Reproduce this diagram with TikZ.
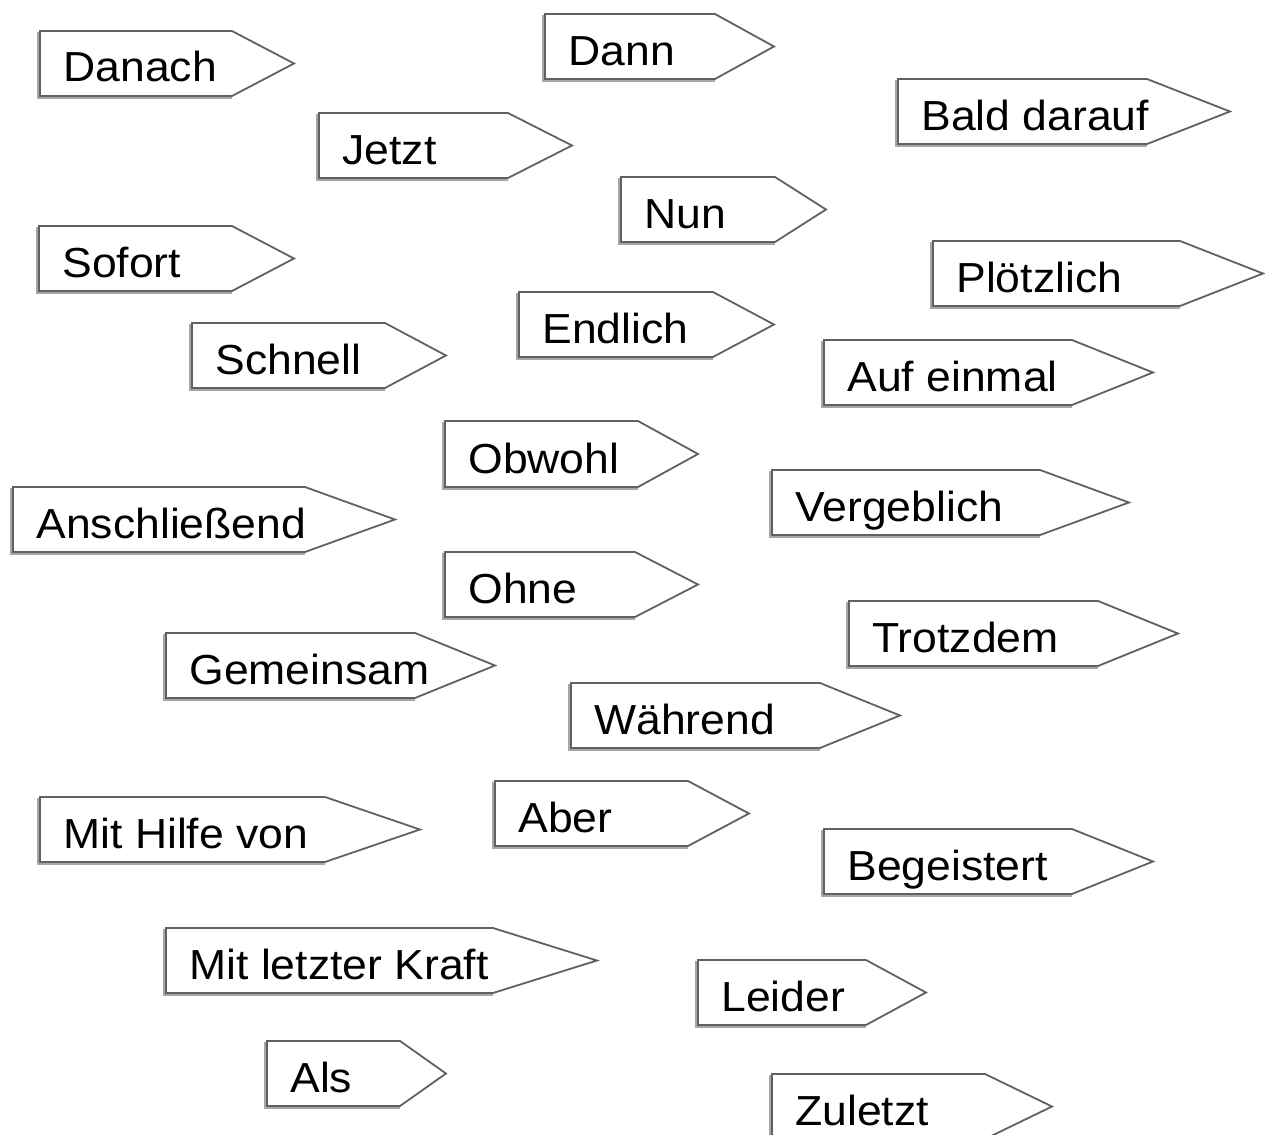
\documentclass[tikz,border=0pt]{standalone}
\usepackage{fontspec}
\setmainfont{Liberation Sans}
\tikzset{
  signline/.style={draw=black!62, line width=0.9pt, line join=miter, fill=white},
  signshadow/.style={draw=black!35, line width=1.1pt},
  signtext/.style={anchor=base west, inner sep=0pt, text=black, font=\fontsize{21pt}{25pt}\selectfont},
}
% #1 name, #2 left, #3 top, #4 bottom, #5 point start, #6 tip, #7 text
\newcommand\signpost[7]{%
  \draw[signshadow] ({#2-1.8},{#3+1}) -- ({#2-1.8},{#4+1.8}) -- ({#5},{#4+1.8});
  \draw[signline] (#2,#3) -- (#5,#3) -- (#6,{(#3+#4)/2}) -- (#5,#4) -- (#2,#4) -- cycle;
  \node[signtext] (#1) at ({#2+23},{#4-14}) {\scalebox{1.06}[1]{#7}};
}
\begin{document}
\begin{tikzpicture}[x=0.5pt,y=-0.5pt]
\useasboundingbox (0,0) rectangle (1265,1135);
\clip (0,0) rectangle (1265,1135);
\signpost{danach}{40}{31}{96}{232}{294}{Danach}
\signpost{dann}{545}{14}{79}{715}{774}{Dann}
\signpost{bald}{898}{79}{144}{1147}{1230}{Bald darauf}
\signpost{jetzt}{319}{113}{178}{508}{572}{Jetzt}
\signpost{nun}{621}{177}{242}{775}{826}{Nun}
\signpost{sofort}{39}{226}{291}{232}{294}{Sofort}
\signpost{ploetzlich}{933}{241}{306}{1180}{1263}{Plötzlich}
\signpost{endlich}{519}{292}{357}{713}{774}{Endlich}
\signpost{schnell}{192}{323}{388}{385}{446}{Schnell}
\signpost{aufeinmal}{824}{340}{405}{1072}{1153}{Auf einmal}
\signpost{obwohl}{445}{421}{487}{638}{698}{Obwohl}
\signpost{vergeblich}{772}{470}{535}{1040}{1129}{Vergeblich}
\signpost{anschl}{13}{487}{552}{305}{395}{Anschließend}
\signpost{ohne}{445}{552}{617}{635}{698}{Ohne}
\signpost{trotzdem}{849}{601}{666}{1098}{1178}{Trotzdem}
\signpost{gemeinsam}{166}{633}{698}{415}{495}{Gemeinsam}
\signpost{waehrend}{571}{683}{748}{820}{900}{Während}
\signpost{mithilfe}{40}{797}{862}{325}{420}{Mit Hilfe von}
\signpost{aber}{495}{781}{846}{688}{749}{Aber}
\signpost{begeistert}{824}{829}{894}{1072}{1153}{Begeistert}
\signpost{letzter}{166}{928}{993}{493}{597}{Mit letzter Kraft}
\signpost{leider}{698}{960}{1025}{866}{926}{Leider}
\signpost{als}{267}{1041}{1106}{400}{446}{Als}
\signpost{zuletzt}{772}{1074}{1139}{985}{1052}{Zuletzt}
\end{tikzpicture}
\end{document}
